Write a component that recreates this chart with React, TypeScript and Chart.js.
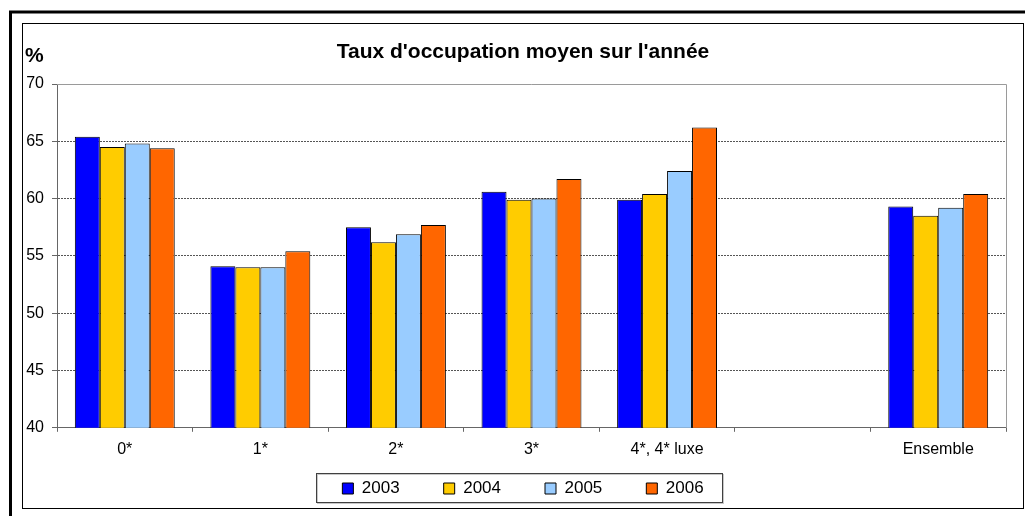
import React, { useEffect, useRef } from 'react';
import { Chart, registerables } from 'chart.js';

Chart.register(...registerables);

// ---- Data ----
const categories = ['0*', '1*', '2*', '3*', '4*, 4* luxe', '', 'Ensemble'];
const seriesLabels = ['2003', '2004', '2005', '2006'];
const values2003 = [65.4, 54.1, 57.5, 60.6, 59.9, null, 59.3];
const values2004 = [64.5, 54.0, 56.2, 59.9, 60.4, null, 58.5];
const values2005 = [64.8, 54.0, 56.9, 60.0, 62.4, null, 59.2];
const values2006 = [64.4, 55.4, 57.7, 61.7, 66.2, null, 60.4];
const seriesColors = ['#0000FF', '#FFCC00', '#99CCFF', '#FF6600'];
const yMin = 40;
const yMax = 70;
const yStep = 5;
const chartTitle = "Taux d'occupation moyen sur l'année";
const unitLabel = '%';

const FONT = "'Liberation Sans', Arial, sans-serif";

const decorPlugin = {
  id: 'decor',
  afterLayout(chart: any) {
    // let tick labels overflow their (tight) scale boxes
    const y = chart.scales.y;
    const x = chart.scales.x;
    if (y) y.left = 0;
    if (x) x.bottom = 472;
  },
  beforeDraw(chart: any) {
    const ctx = chart.ctx;
    ctx.save();
    ctx.fillStyle = '#ffffff';
    ctx.fillRect(0, 0, chart.width, chart.height);
    // outer thick frame (top + left)
    ctx.strokeStyle = '#000';
    ctx.lineWidth = 3;
    ctx.beginPath();
    ctx.moveTo(10.5, chart.height);
    ctx.lineTo(10.5, 12);
    ctx.lineTo(chart.width, 12);
    ctx.stroke();
    // inner thin frame
    ctx.lineWidth = 1;
    ctx.strokeRect(22.5, 23.5, 1001, 485);
    ctx.restore();
  },
  beforeDatasetsDraw(chart: any) {
    const { ctx, chartArea } = chart;
    const l = Math.round(chartArea.left);
    const r = Math.round(chartArea.right) + 0.5;
    const t = Math.round(chartArea.top) + 0.5;
    const b = Math.round(chartArea.bottom);
    ctx.save();
    ctx.strokeStyle = '#9a9a9a';
    ctx.lineWidth = 1;
    ctx.beginPath();
    ctx.moveTo(l, t);
    ctx.lineTo(r, t);
    ctx.lineTo(r, b);
    ctx.stroke();
    ctx.restore();
  },
  afterDraw(chart: any) {
    const ctx = chart.ctx;
    ctx.save();
    // unit label
    ctx.fillStyle = '#000';
    ctx.font = `bold 21px ${FONT}`;
    ctx.textAlign = 'left';
    ctx.textBaseline = 'alphabetic';
    ctx.fillText(unitLabel, 25, 62);
    // legend frame
    const lg = chart.legend;
    if (lg && lg.legendHitBoxes && lg.legendHitBoxes.length) {
      const hb = lg.legendHitBoxes;
      const first = hb[0];
      const last = hb[hb.length - 1];
      const left = Math.round(first.left - 26) + 0.5;
      const right = Math.round(last.left + last.width + 18) + 0.5;
      const top = Math.round(first.top - 7) + 0.5;
      const bottom = Math.round(first.top + first.height + 5) + 0.5;
      ctx.strokeStyle = '#c8c8c8';
      ctx.lineWidth = 1;
      ctx.strokeRect(left + 1, top + 1, right - left, bottom - top);
      ctx.strokeStyle = '#404040';
      ctx.strokeRect(left, top, right - left, bottom - top);
    }
    ctx.restore();
  },
};

export default function App() {
  const canvasRef = useRef<HTMLCanvasElement | null>(null);

  useEffect(() => {
    if (!canvasRef.current) return;
    const allSeries = [values2003, values2004, values2005, values2006];
    const chart = new Chart(canvasRef.current, {
      type: 'bar',
      data: {
        labels: categories,
        datasets: allSeries.map((vals, i) => ({
          label: seriesLabels[i],
          data: vals,
          backgroundColor: seriesColors[i],
          borderColor: '#000000',
          borderWidth: 1,
          borderSkipped: false,
          categoryPercentage: 0.737,
          barPercentage: 1.0,
        })),
      },
      plugins: [decorPlugin],
      options: {
        responsive: false,
        animation: false,
        devicePixelRatio: 1,
        layout: {
          padding: { left: 40, right: 19, top: 0, bottom: 9 },
        },
        font: { family: FONT },
        plugins: {
          tooltip: { enabled: false },
          title: {
            display: true,
            text: chartTitle,
            color: '#000',
            font: { family: FONT, size: 21, weight: 'bold' },
            padding: { top: 39.4, bottom: 19.4 },
          },
          legend: {
            display: true,
            position: 'bottom',
            labels: {
              color: '#000',
              font: { family: FONT, size: 17 },
              boxWidth: 11,
              boxHeight: 11,
              padding: 44,
            },
          },
        },
        scales: {
          x: {
            offset: true,
            grid: {
              display: true,
              offset: true,
              drawOnChartArea: false,
              drawTicks: true,
              tickLength: 4,
              color: '#666',
              tickColor: '#666',
            },
            border: { display: true, color: '#666', width: 1 },
            ticks: {
              color: '#000',
              font: { family: FONT, size: 16 },
              padding: 8,
              maxRotation: 0,
              autoSkip: false,
            },
            afterFit(scale: any) {
              scale.height = 8.2;
            },
          },
          y: {
            min: yMin,
            max: yMax,
            grid: {
              display: true,
              drawTicks: true,
              tickLength: 5,
              color: (ctx: any) =>
                ctx.tick && (ctx.tick.value === yMax || ctx.tick.value === yMin)
                  ? 'rgba(0,0,0,0)'
                  : '#555',
              tickColor: '#666',
              tickBorderDash: [],
            },
            border: { display: true, color: '#666', width: 1, dash: [2, 1] },
            ticks: {
              stepSize: yStep,
              color: '#000',
              font: { family: FONT, size: 16 },
              padding: 8,
            },
            afterFit(scale: any) {
              scale.width = 17;
            },
          },
        },
      } as any,
    });
    return () => chart.destroy();
  }, []);

  return (
    <div style={{ position: 'absolute', left: 0, top: 0, width: 1025, height: 516, background: '#fff' }}>
      <canvas ref={canvasRef} width={1025} height={516} style={{ display: 'block', width: 1025, height: 516 }} />
    </div>
  );
}
